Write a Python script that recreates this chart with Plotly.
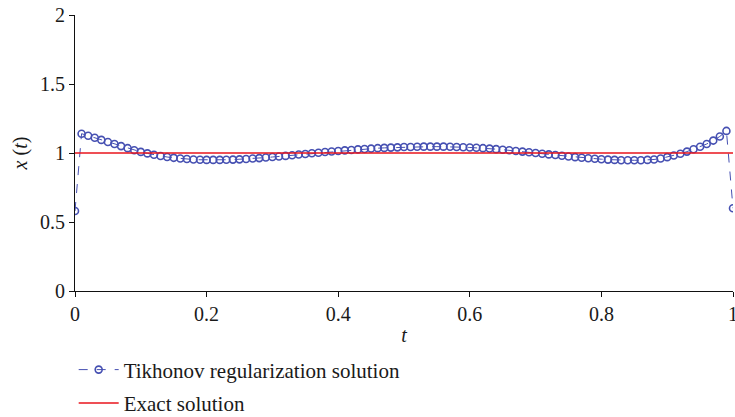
import plotly.graph_objects as go

# Sample points t = 0, 0.01, ..., 1.00
t_values = [round(i * 0.01, 2) for i in range(101)]

# Tikhonov regularization solution x(t)
tikhonov = [
    0.580, 1.140, 1.125, 1.110, 1.095, 1.080, 1.065, 1.050, 1.035, 1.020,
    1.008, 0.997, 0.987, 0.978, 0.971, 0.965, 0.960, 0.956, 0.953, 0.951,
    0.950, 0.950, 0.950, 0.951, 0.952, 0.954, 0.957, 0.960, 0.963, 0.967,
    0.971, 0.975, 0.979, 0.984, 0.989, 0.993, 0.998, 1.002, 1.007, 1.011,
    1.015, 1.019, 1.022, 1.026, 1.029, 1.032, 1.035, 1.037, 1.039, 1.041,
    1.043, 1.044, 1.045, 1.046, 1.046, 1.046, 1.046, 1.045, 1.044, 1.042,
    1.040, 1.038, 1.035, 1.032, 1.028, 1.024, 1.020, 1.015, 1.010, 1.005,
    1.000, 0.995, 0.990, 0.985, 0.980, 0.975, 0.970, 0.966, 0.962, 0.958,
    0.955, 0.952, 0.950, 0.948, 0.947, 0.947, 0.948, 0.950, 0.953, 0.960,
    0.970, 0.982, 0.995, 1.010, 1.027, 1.045, 1.065, 1.090, 1.120, 1.160,
    0.600,
]

# Exact solution x(t) = 1
exact = [1.0 for _ in t_values]

blue = "#4650b2"
red = "#e8141c"
font_family = "Times New Roman, Liberation Serif, DejaVu Serif, serif"
ink = "#1a1a1a"
fs = 20

fig = go.Figure()
fig.add_trace(go.Scatter(
    x=t_values, y=tikhonov, mode="lines+markers",
    name="Tikhonov regularization solution", legendgroup="tik",
    line=dict(color=blue, width=1, dash="dash"),
    marker=dict(symbol="circle-open", size=7, color=blue, line=dict(width=1.6, color=blue)),
))
fig.add_trace(go.Scatter(
    x=t_values, y=exact, mode="lines",
    name="Exact solution", legendgroup="exact",
    line=dict(color=red, width=1.5),
))

fig.update_layout(
    width=735, height=417,
    margin=dict(l=75, r=2, t=15, b=126),
    paper_bgcolor="white", plot_bgcolor="white",
    font=dict(family=font_family, size=fs, color=ink),
    showlegend=True,
    legend=dict(
        xref="paper", yref="container",
        x=-0.002, y=0.162, xanchor="left", yanchor="top",
        font=dict(family=font_family, size=21, color=ink),
        tracegroupgap=3, itemwidth=40, bgcolor="rgba(0,0,0,0)",
    ),
    xaxis=dict(
        range=[0, 1], tickvals=[0, 0.2, 0.4, 0.6, 0.8, 1],
        ticktext=["0", "0.2", "0.4", "0.6", "0.8", "1"],
        ticklabeloverflow="allow", automargin=False,
        showgrid=False, zeroline=False, showline=True, linecolor="#111111", linewidth=1.2,
        ticks="outside", ticklen=5, tickcolor="#111111",
        title=dict(text="<i>t</i>", standoff=3, font=dict(family=font_family, size=fs)),
        tickfont=dict(family=font_family, size=fs),
    ),
    yaxis=dict(
        range=[0, 2], tickvals=[0, 0.5, 1, 1.5, 2],
        ticktext=["0", "0.5", "1", "1.5", "2"],
        showgrid=False, zeroline=False, showline=True, linecolor="#111111", linewidth=1.2,
        ticks="outside", ticklen=5, tickcolor="#111111",
        title=dict(text="<i>x</i> (<i>t</i>)", standoff=6, font=dict(family=font_family, size=fs)),
        tickfont=dict(family=font_family, size=fs),
    ),
)

fig.write_html("out.html")
